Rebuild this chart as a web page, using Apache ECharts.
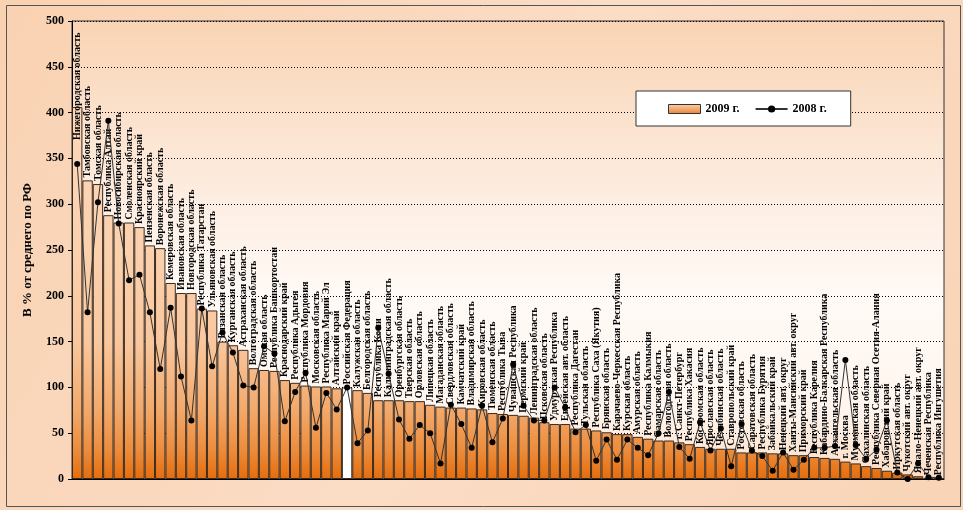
<!DOCTYPE html>
<html>
<head>
<meta charset="utf-8">
<script src="https://cdn.jsdelivr.net/npm/echarts@6/dist/echarts.min.js"></script>
<style>
html,body{margin:0;padding:0;background:#fff;}
#c{width:963px;height:510px;}
</style>
</head>
<body>
<div id="c"></div>
<script>
const categories = [
"Нижегородская область","Тамбовская область","Томская область","Республика Алтай","Новосибирская область",
"Смоленская область","Красноярский край","Пензенская область","Воронежская область","Кемеровская область",
"Ивановская область","Новгородская область","Республика Татарстан","Ульяновская область","Рязанская область",
"Курганская область","Астраханская область","Волгоградская область","Омская область","Республика Башкортостан",
"Краснодарский край","Республика Адыгея","Республика Мордовия","Московская область","Республика Марий Эл",
"Алтайский край","Российская Федерация","Калужская область","Белгородская область","Республика Коми",
"Калининградская область","Оренбургская область","Тверская область","Орловская область","Липецкая область",
"Магаданская область","Свердловская область","Камчатский край","Владимирская область","Кировская область",
"Тюменская область","Республика Тыва","Чувашская Республика","Пермский край","Ленинградская область",
"Псковская область","Удмуртская Республика","Еврейская авт. область","Республика Дагестан","Тульская область",
"Республика Саха (Якутия)","Брянская область","Карачаево-Черкесская Республика","Курская область","Амурская область",
"Республика Калмыкия","Самарская область","Вологодская область","г. Санкт-Петербург","Республика Хакасия",
"Костромская область","Ярославская область","Челябинская область","Ставропольский край","Ростовская область",
"Саратовская область","Республика Бурятия","Забайкальский край","Ненецкий авт. округ","Ханты-Мансийский авт. округ",
"Приморский край","Республика Карелия","Кабардино-Балкарская Республика","Архангельская область","г. Москва",
"Мурманская область","Сахалинская область","Республика Северная Осетия-Алания","Хабаровский край","Иркутская область",
"Чукотский авт. округ","Ямало-Ненецкий авт. округ","Чеченская Республика","Республика Ингушетия"
];
const values2009 = [
406,326,322,288,280,280,275,255,252,214,
203,203,186,184,150,146,141,121,119,118,
108,105,102,101,101,99,100,97,94,86,
86,86,85,85,81,79,78,78,77,76,
72,71,70,69,67,62,60,60,55,55,
53,51,49,49,46,44,42,42,40,38,
35,33,33,33,29,29,29,28,28,26,
26,24,23,22,19,17,14,12,9,7,
5,3,1.2,0.5
];
const values2008 = [
344,182,302,391,279,217,223,182,120,187,
112,64,186,123,160,138,102,100,145,137,
63,95,116,56,94,76,100,39,53,165,
115,65,44,59,50,17,81,60,34,80,
40,66,125,80,64,64,100,78,51,59,
20,43,21,43,34,26,50,95,35,22,
62,31,55,14,60,31,25,9,29,10,
21,34,34,36,130,37,22,32,64,7,
0,17,2,1.4
];
const seriesNames = ["2009 г.","2008 г."];
const yAxisTitle = "В % от среднего по РФ";
const highlightCategory = "Российская Федерация";

const chart = echarts.init(document.getElementById('c'), null, {renderer:'canvas'});
const serif = "'Liberation Serif','Times New Roman',serif";

const barGrad = new echarts.graphic.LinearGradient(0, 21, 0, 480, [
  {offset:0, color:'#FCDCC2'},
  {offset:0.5, color:'#FBD1AE'},
  {offset:0.7, color:'#F9C79E'},
  {offset:0.85, color:'#F2A86A'},
  {offset:0.935, color:'#EC8C3C'},
  {offset:1, color:'#E46C0A'}
], true);
const legendGrad = new echarts.graphic.LinearGradient(0, 0, 0, 1, [
  {offset:0, color:'#FBD1AE'},
  {offset:1, color:'#E98232'}
]);

const barData = values2009.map((v, i) => {
  const item = {value: v};
  if (categories[i] === highlightCategory) {
    item.itemStyle = {color:'#FFFFFF'};
  }
  if (i === 0) {
    item.label = {distance: -33};
  }
  return item;
});

const option = {
  animation: false,
  backgroundColor: new echarts.graphic.LinearGradient(0, 0, 1, 1, [
    {offset:0, color:'#F9D2B2'},
    {offset:0.5, color:'#FBDCC5'},
    {offset:1, color:'#F9D4B6'}
  ]),
  graphic: [{
    type:'rect', left:4, top:3, shape:{width:954, height:501},
    style:{fill:'none', stroke:'#555', lineWidth:1}, silent:true, z:-1
  }],
  grid: {
    left: 72, right: 19, top: 21, bottom: 31,
    show: true,
    borderColor: '#333', borderWidth: 1,
    backgroundColor: new echarts.graphic.LinearGradient(0, 0, 0, 1, [
      {offset:0, color:'#F9D4B4'},
      {offset:0.4, color:'#FDEEE3'},
      {offset:0.6, color:'#FFFAF6'},
      {offset:0.85, color:'#FFF5EE'},
      {offset:1, color:'#FBDCC4'}
    ])
  },
  legend: {
    left: 636, top: 91,
    backgroundColor: '#FFFFFF',
    borderColor: '#333', borderWidth: 1,
    padding: [12, 24, 11, 32],
    itemWidth: 32, itemHeight: 9, itemGap: 15,
    textStyle: {fontFamily: serif, fontWeight:'bold', fontSize: 12, color:'#000'},
    data: [
      {name: seriesNames[0], icon:'rect', itemStyle:{color: legendGrad, borderColor:'#333', borderWidth:1}},
      {name: seriesNames[1]}
    ]
  },
  xAxis: {
    type: 'category',
    data: categories,
    axisTick: {show:false},
    axisLabel: {show:false},
    axisLine: {lineStyle:{color:'#000', width:1}},
    boundaryGap: true
  },
  yAxis: {
    type: 'value',
    min: 0, max: 500, interval: 50,
    name: yAxisTitle,
    nameLocation: 'middle',
    nameGap: 38,
    nameRotate: 90,
    nameTextStyle: {fontFamily: serif, fontWeight:'bold', fontSize: 13, color:'#000'},
    axisLine: {show:true, lineStyle:{color:'#000', width:1}},
    axisTick: {show:true, length:4, lineStyle:{color:'#000'}},
    axisLabel: {fontFamily: serif, fontWeight:'bold', fontSize: 12, color:'#000', margin: 8},
    splitLine: {show:true, lineStyle:{color:'#000', type:[1,2], width:1}}
  },
  series: [
    {
      name: seriesNames[0],
      type: 'bar',
      data: barData,
      barCategoryGap: '0%',
      itemStyle: {color: barGrad, borderColor:'#3A2A1E', borderWidth:1},
      label: {
        show: true,
        position: 'top',
        rotate: 90,
        align: 'left',
        verticalAlign: 'middle',
        distance: 3,
        formatter: p => p.name,
        fontFamily: serif,
        fontWeight: 'bold',
        fontSize: 10,
        color: '#000'
      },
      z: 2
    },
    {
      name: seriesNames[1],
      type: 'line',
      data: values2008,
      symbol: 'circle',
      symbolSize: 6,
      lineStyle: {color:'#333', width:1},
      itemStyle: {color:'#000'},
      z: 3
    }
  ]
};
chart.setOption(option);
</script>
</body>
</html>
